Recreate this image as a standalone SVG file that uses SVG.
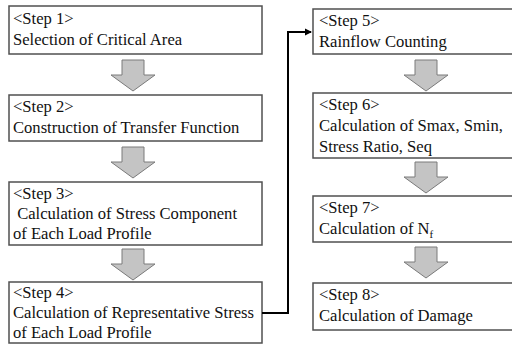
<svg xmlns="http://www.w3.org/2000/svg" width="512" height="345" viewBox="0 0 512 345">
<style>
.box{fill:#fff;stroke:#505050;stroke-width:1.5}
.t{font-family:'Liberation Serif','Times New Roman',Times,serif;font-size:16.6px;fill:#111}
.arr{fill:#c4c4c4;stroke:#7a7a7a;stroke-width:1}
.conn{fill:none;stroke:#000;stroke-width:2}
</style>
<defs>
<marker id="ah" markerWidth="8" markerHeight="8" refX="6" refY="4" orient="auto" markerUnits="userSpaceOnUse">
<path d="M0,0.5 L7,4 L0,7.5 Z" fill="#000"/>
</marker>
<path id="down" d="M-11,0 H11 V15 H22 L0,31 L-22,15 H-11 Z"/>
</defs>
<g id="step1">
<rect class="box" x="9" y="6" width="253" height="48"/>
<text class="t" x="13" y="24">&lt;Step 1&gt;</text>
<text class="t" x="13" y="45">Selection of Critical Area</text>
</g>
<g id="step2">
<rect class="box" x="9" y="95" width="253" height="46"/>
<text class="t" x="13" y="112">&lt;Step 2&gt;</text>
<text class="t" x="13" y="133">Construction of Transfer Function</text>
</g>
<g id="step3">
<rect class="box" x="9" y="182" width="253" height="63"/>
<text class="t" x="13" y="199">&lt;Step 3&gt;</text>
<text class="t" x="13" y="219" xml:space="preserve"> Calculation of Stress Component</text>
<text class="t" x="13" y="239">of Each Load Profile</text>
</g>
<g id="step4">
<rect class="box" x="9" y="282" width="253" height="61"/>
<text class="t" x="13" y="298">&lt;Step 4&gt;</text>
<text class="t" x="13" y="318">Calculation of Representative Stress</text>
<text class="t" x="13" y="338">of Each Load Profile</text>
</g>
<g id="step5">
<rect class="box" x="313" y="9" width="210" height="45"/>
<text class="t" x="319" y="26">&lt;Step 5&gt;</text>
<text class="t" x="319" y="47">Rainflow Counting</text>
</g>
<g id="step6">
<rect class="box" x="313" y="93" width="210" height="65"/>
<text class="t" x="319" y="110">&lt;Step 6&gt;</text>
<text class="t" x="319" y="131">Calculation of Smax, Smin,</text>
<text class="t" x="319" y="152">Stress Ratio, Seq</text>
</g>
<g id="step7">
<rect class="box" x="313" y="196" width="210" height="46"/>
<text class="t" x="319" y="213">&lt;Step 7&gt;</text>
<text class="t" x="319" y="234">Calculation of N<tspan font-size="11" dy="4">f</tspan></text>
</g>
<g id="step8">
<rect class="box" x="313" y="283" width="210" height="47"/>
<text class="t" x="319" y="300">&lt;Step 8&gt;</text>
<text class="t" x="319" y="321">Calculation of Damage</text>
</g>
<g id="connectors">
<use href="#down" class="arr" x="133" y="60"/>
<use href="#down" class="arr" x="133" y="147"/>
<use href="#down" class="arr" x="133" y="249"/>
<use href="#down" class="arr" x="426" y="60"/>
<use href="#down" class="arr" x="426" y="162"/>
<use href="#down" class="arr" x="426" y="247"/>
<path class="conn" d="M262,313 H288 V32 H311" marker-end="url(#ah)"/>
</g>
</svg>
